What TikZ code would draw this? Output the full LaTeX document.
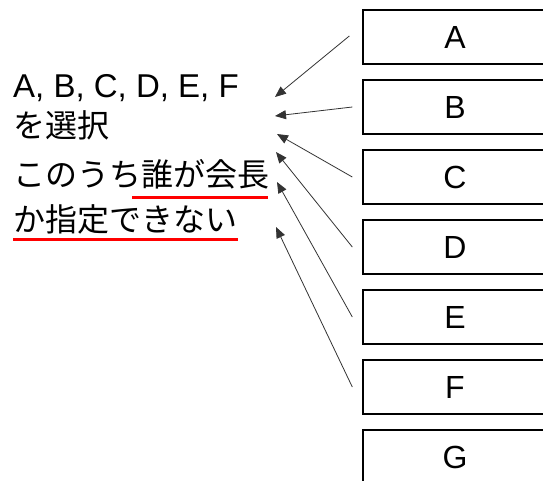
\documentclass[tikz,border=0pt]{standalone}
\usepackage{fontspec}
\setmainfont{Liberation Sans}
\newfontfamily\jpfont{Noto Sans CJK JP}
\usetikzlibrary{arrows.meta}
\begin{document}
\begin{tikzpicture}[x=1pt,y=-1pt,
  box/.style={draw=black,line width=1.4pt,minimum width=184pt,minimum height=54pt,inner sep=0pt,font=\fontsize{32}{36}\selectfont},
  txt/.style={anchor=base west,inner sep=0pt,font=\fontsize{33}{38}\selectfont},
  jtxt/.style={anchor=base west,inner sep=0pt,font=\fontsize{32}{38}\selectfont\jpfont},
  arr/.style={draw=black!80,line width=0.8pt,-{Triangle[length=11pt,width=9pt]}},
  uline/.style={draw=red,line width=3pt}]
\useasboundingbox (0,0) rectangle (543,480);
\clip (0,0) rectangle (543,480);
\foreach \n/\y in {A/37,B/107,C/177,D/247,E/317,F/387,G/457}{
  \node[box] (\n) at (455,\y) {\n};
}
\node[txt] (t1) at (13,97) {A, B, C, D, E, F};
\node[jtxt] (t2) at (13,137) {を選択};
\node[jtxt] (t3) at (13,186) {このうち誰が会長};
\node[jtxt] (t4) at (13,231) {か指定できない};
\coordinate (u1a) at (132,197); \coordinate (u1b) at (268,197);
\coordinate (u2a) at (13,239); \coordinate (u2b) at (238,239);
\draw[uline] (u1a) -- (u1b);
\draw[uline] (u2a) -- (u2b);
\coordinate (pA) at (275,97);
\coordinate (pB) at (275,116);
\coordinate (pC) at (277,134);
\coordinate (pD) at (276,152);
\coordinate (pE) at (277,182);
\coordinate (pF) at (276,227);
\draw[arr] ([xshift=-13pt,yshift=1pt]A.west) -- (pA);
\foreach \n in {B,C,D,E,F}{
  \draw[arr] ([xshift=-10pt]\n.west) -- (p\n);
}
\end{tikzpicture}
\end{document}
